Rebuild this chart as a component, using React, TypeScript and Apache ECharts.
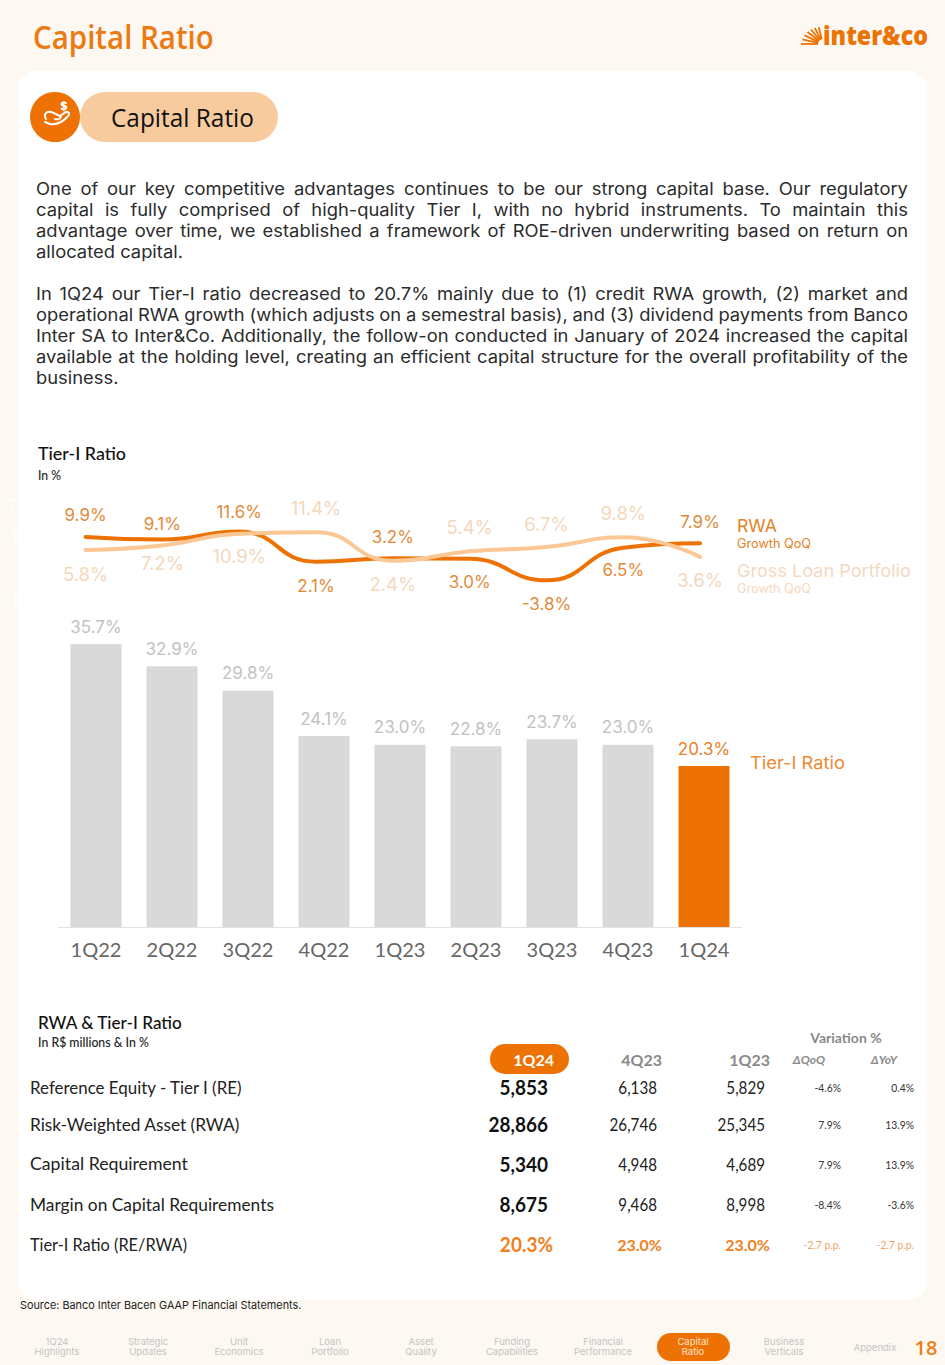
import React, { useEffect, useRef } from "react";
import * as echarts from "echarts";

const categories = ["1Q22", "2Q22", "3Q22", "4Q22", "1Q23", "2Q23", "3Q23", "4Q23", "1Q24"];
const tierRatio = [35.7, 32.9, 29.8, 24.1, 23.0, 22.8, 23.7, 23.0, 20.3];
const rwaGrowth = [9.9, 9.1, 11.6, 2.1, 3.2, 3.0, -3.8, 6.5, 7.9];
const loanGrowth = [5.8, 7.2, 10.9, 11.4, 2.4, 5.4, 6.7, 9.8, 3.6];

// signed label separation from the point: positive above, negative below
const rwaLabelGap = [22.6, 17, 21, -25, 22, -24.5, -25, -23, 22];
const loanLabelGap = [-24.4, -17, -22.5, 24, -23.6, 24, 23, 24, -23.4];

const paragraph1 = [
  "One of our key competitive advantages continues to be our strong capital base. Our regulatory",
  "capital is fully comprised of high-quality Tier I, with no hybrid instruments. To maintain this",
  "advantage over time, we established a framework of ROE-driven underwriting based on return on",
  "allocated capital.",
];
const paragraph2 = [
  "In 1Q24 our Tier-I ratio decreased to 20.7% mainly due to (1) credit RWA growth, (2) market and",
  "operational RWA growth (which adjusts on a semestral basis), and (3) dividend payments from Banco",
  "Inter SA to Inter&Co. Additionally, the follow-on conducted in January of 2024 increased the capital",
  "available at the holding level, creating an efficient capital structure for the overall profitability of the",
  "business.",
];

const rowNames = [
  "Reference Equity - Tier I (RE)",
  "Risk-Weighted Asset (RWA)",
  "Capital Requirement",
  "Margin on Capital Requirements",
  "Tier-I Ratio (RE/RWA)",
];
const col1Q24 = ["5,853", "28,866", "5,340", "8,675", "20.3%"];
const col4Q23 = ["6,138", "26,746", "4,948", "9,468", "23.0%"];
const col1Q23 = ["5,829", "25,345", "4,689", "8,998", "23.0%"];
const colQoQ = ["-4.6%", "7.9%", "7.9%", "-8.4%", "-2.7 p.p."];
const colYoY = ["0.4%", "13.9%", "13.9%", "-3.6%", "-2.7 p.p."];

const navItems = [
  ["1Q24", "Highlights"],
  ["Strategic", "Updates"],
  ["Unit", "Economics"],
  ["Loan", "Portfolio"],
  ["Asset", "Quality"],
  ["Funding", "Capabilities"],
  ["Financial", "Performance"],
  ["Capital", "Ratio"],
  ["Business", "Verticals"],
  ["Appendix"],
];

const ORANGE = "#ee7203";
const SANS = "Lato";
const BODY = "Inter";

const measureCtx = document.createElement("canvas").getContext("2d")!;
function measure(text: string, size: number, family: string, weight: any = 400, style = "normal") {
  measureCtx.font = `${style} ${weight} ${size}px "${family}"`;
  return measureCtx.measureText(text).width;
}

function T(text: string, x: number, y: number, o: any = {}) {
  const size = o.size ?? 16;
  const family = o.family ?? SANS;
  const weight = o.weight ?? 400;
  const style = o.italic ? "italic" : "normal";
  const el: any = {
    type: "text",
    x,
    y,
    z: 5,
    silent: true,
    style: {
      text,
      fill: o.color ?? "#222",
      fontSize: size,
      fontFamily: family,
      fontWeight: weight,
      fontStyle: style,
      textAlign: o.align ?? "left",
      textVerticalAlign: "middle",
      textBaseline: "middle",
    },
  };
  if (o.width) el.scaleX = o.width / measure(text, size, family, weight, style);
  if (o.sx) el.scaleX = o.sx;
  return el;
}

const BODY_SIZE = 17;
const BODY_LEFT = 36;
const BODY_RIGHT = 908;
const bodyScale = 147 / measure("allocated capital.", BODY_SIZE, BODY);

function bodyLine(line: string, y: number, justify: boolean) {
  const words = line.split(" ");
  const widths = words.map((w) => measure(w, BODY_SIZE, BODY) * bodyScale);
  const total = widths.reduce((a, b) => a + b, 0);
  const gap = justify ? (BODY_RIGHT - BODY_LEFT - total) / (words.length - 1) : measure(" ", BODY_SIZE, BODY) * bodyScale;
  let x = BODY_LEFT;
  return words.map((w, i) => {
    const el = T(w, x, y, { size: BODY_SIZE, family: BODY, color: "#2b2b2b" });
    el.scaleX = bodyScale;
    x += widths[i] + gap;
    return el;
  });
}

function buildGraphic() {
  const g: any[] = [];
  g.push({ type: "rect", z: -20, silent: true, shape: { x: 0, y: 0, width: 945, height: 1365 }, style: { fill: "#fdf8f2" } });
  g.push({ type: "rect", z: -10, silent: true, shape: { x: 18, y: 71, width: 909, height: 1229, r: 18 }, style: { fill: "#ffffff" } });

  // header
  g.push(T("Capital Ratio", 33, 36, { size: 33, family: "Open Sans", weight: 600, color: "#ec7a12", width: 181 }));
  for (let i = 0; i < 7; i++) {
    const a = Math.PI * (1 - (i * 0.42) / 6);
    const r0 = 5;
    const r1 = 22 - i * 0.8;
    g.push({
      type: "line",
      z: 5,
      silent: true,
      shape: { x1: 823 + r0 * Math.cos(a), y1: 44 - r0 * Math.sin(a), x2: 823 + r1 * Math.cos(a), y2: 44 - r1 * Math.sin(a) },
      style: { stroke: ORANGE, lineWidth: 1.8 },
    });
  }
  g.push(T("inter&co", 823, 35, { size: 26, family: "Open Sans", weight: 800, color: ORANGE, width: 105 }));

  // section pill
  g.push({ type: "rect", z: 1, silent: true, shape: { x: 80, y: 92, width: 198, height: 50, r: 25 }, style: { fill: "#f8cb9e" } });
  g.push({ type: "circle", z: 1, silent: true, shape: { cx: 55, cy: 117, r: 25 }, style: { fill: ORANGE } });
  g.push({ type: "handIcon", z: 5, silent: true, x: 0, y: 0, style: { fill: "none", stroke: "#fff", lineWidth: 2, lineCap: "round" } });
  g.push(T("$", 60.5, 105.5, { size: 12, family: "Open Sans", weight: 800, color: "#fff" }));
  g.push(T("Capital Ratio", 111, 116.5, { size: 26, family: "Open Sans", weight: 400, color: "#111", width: 143 }));

  // body copy
  paragraph1.forEach((l, i) => g.push(...bodyLine(l, 189 + i * 21, i < paragraph1.length - 1)));
  paragraph2.forEach((l, i) => g.push(...bodyLine(l, 294 + i * 21, i < paragraph2.length - 1)));

  // chart titles and legends
  g.push(T("Tier-I Ratio", 38, 454, { size: 17.5, weight: 500, color: "#111", width: 88 }));
  g.push(T("In %", 38, 475, { size: 12.5, weight: 500, color: "#222", width: 23 }));
  g.push(T("RWA", 737, 526, { size: 17.5, family: BODY, color: "#e38226", width: 40 }));
  g.push(T("Growth QoQ", 737, 544, { size: 12.5, family: BODY, color: "#e38226", width: 74 }));
  g.push(T("Gross Loan Portfolio", 737, 571, { size: 17.5, family: BODY, color: "#f4d9c2", width: 174 }));
  g.push(T("Growth QoQ", 737, 589, { size: 12.5, family: BODY, color: "#f4d9c2", width: 74 }));
  g.push(T("Tier-I Ratio", 750, 763, { size: 17.5, family: BODY, color: "#ee8a30", width: 95 }));

  // table
  g.push(T("RWA & Tier-I Ratio", 38, 1022, { size: 17.5, weight: 500, color: "#111", width: 145 }));
  g.push(T("In R$ millions & In %", 38, 1042, { size: 12.5, weight: 500, color: "#222", width: 111 }));
  g.push(T("Variation %", 846, 1037, { size: 14, weight: 700, color: "#8a8a8a", align: "center" }));
  g.push({ type: "rect", z: 1, silent: true, shape: { x: 490, y: 1044, width: 79, height: 30, r: 15 }, style: { fill: ORANGE } });
  g.push(T("1Q24", 554, 1059.5, { size: 16, weight: 700, color: "#fff", align: "right" }));
  g.push(T("4Q23", 662, 1059.5, { size: 16, weight: 700, color: "#8a8a8a", align: "right" }));
  g.push(T("1Q23", 770, 1059.5, { size: 16, weight: 700, color: "#8a8a8a", align: "right" }));
  g.push(T("ΔQoQ", 825, 1059, { size: 12, weight: 700, italic: true, color: "#8a8a8a", align: "right" }));
  g.push(T("ΔYoY", 897, 1059, { size: 12, weight: 700, italic: true, color: "#8a8a8a", align: "right" }));

  const rowY = [1087, 1124, 1164, 1204, 1244];
  const rowWidths = [213, 210, 158, 244, 157];
  rowNames.forEach((name, i) => {
    const y = rowY[i];
    const last = i === rowNames.length - 1;
    g.push(T(name, 30, y, { size: 17.5, color: "#222", width: rowWidths[i] }));
    g.push(T(col1Q24[i], last ? 553 : 548, y, { size: 20, weight: 700, color: last ? "#f08020" : "#111", align: "right", sx: 0.95 }));
    g.push(T(col4Q23[i], last ? 662 : 657, y, { size: last ? 16 : 16.5, weight: last ? 700 : 400, color: last ? "#f08020" : "#222", align: "right", sx: last ? 1 : 0.92 }));
    g.push(T(col1Q23[i], last ? 770 : 765, y, { size: last ? 16 : 16.5, weight: last ? 700 : 400, color: last ? "#f08020" : "#222", align: "right", sx: last ? 1 : 0.92 }));
    g.push(T(colQoQ[i], 841, y, { size: 11.5, color: last ? "#f0a464" : "#333", align: "right", sx: 0.9 }));
    g.push(T(colYoY[i], 914, y, { size: 11.5, color: last ? "#f0a464" : "#333", align: "right", sx: 0.9 }));
  });

  g.push(T("Source: Banco Inter Bacen GAAP Financial Statements.", 20, 1305, { size: 11, family: BODY, color: "#222", width: 282 }));

  // nav
  g.push({ type: "rect", z: 1, silent: true, shape: { x: 657, y: 1333, width: 73, height: 28, r: 14 }, style: { fill: ORANGE } });
  const navX = [57, 148, 239, 330, 421, 512, 603, 693, 784, 875];
  navItems.forEach((item, i) => {
    const active = i === 7;
    item.forEach((t, j) => {
      const y = item.length === 1 ? 1347 : 1341 + j * 10.5;
      g.push(T(t, navX[i], y, { size: 9.5, family: BODY, color: active ? "#fde4cc" : "#c4c4c4", align: "center" }));
    });
  });
  g.push(T("18", 926, 1347, { size: 20, family: "Open Sans", weight: 600, color: "#f07c10", align: "center" }));
  return g;
}

const handPath =
  "M46 119 C43 114 47 111 51 112 C55 113 57 115 60 116 C62 118 59 120 55 119 M60 116 L66 112 C69 111 70 114 68 116 C63 122 58 125 50 124 L45 122";

const lineLabel = (gaps: number[], color: string, fontSize: number) => (v: number, i: number) => ({
  value: v,
  label: {
    show: true,
    position: gaps[i] > 0 ? "top" : "bottom",
    distance: Math.abs(gaps[i]) - 10,
    formatter: `${v.toFixed(1)}%`,
    color,
    fontSize,
    fontFamily: BODY,
  },
});

export default function App() {
  const ref = useRef<HTMLDivElement>(null);
  useEffect(() => {
    document.body.style.margin = "0";
    echarts.graphic.registerShape("handIcon", echarts.graphic.extendPath(handPath, {}));
    const chart = echarts.init(ref.current!, undefined, { renderer: "svg" });
    chart.setOption({
      animation: false,
      backgroundColor: "transparent",
      tooltip: { show: false },
      graphic: { elements: buildGraphic() },
      grid: [
        { left: 58, top: 610, width: 684, height: 317 },
        { left: 46.5, top: 505, width: 692, height: 95 },
      ],
      xAxis: [
        {
          type: "category",
          gridIndex: 0,
          data: categories,
          axisTick: { show: false },
          axisLine: { lineStyle: { color: "#e2e2e2", width: 1 } },
          axisLabel: { color: "#666", fontSize: 20, fontFamily: SANS, margin: 12 },
        },
        { type: "category", gridIndex: 1, data: categories, show: false },
      ],
      yAxis: [
        { type: "value", gridIndex: 0, min: 0, max: 40, show: false },
        {
          type: "value",
          gridIndex: 1,
          min: -10,
          max: 20,
          interval: 10,
          axisLine: { show: false },
          axisTick: { show: false },
          splitLine: { show: false },
          axisLabel: { color: "#ffffff", fontSize: 17, fontFamily: BODY, margin: 2, formatter: "{value}%" },
        },
      ],
      series: [
        {
          type: "bar",
          name: "Tier-I Ratio",
          xAxisIndex: 0,
          yAxisIndex: 0,
          barWidth: 51,
          silent: true,
          data: tierRatio.map((v, i) => ({
            value: v,
            itemStyle: { color: i === tierRatio.length - 1 ? ORANGE : "#d9d9d9" },
            label: {
              show: true,
              position: "top",
              distance: 9,
              formatter: `${v.toFixed(1)}%`,
              color: i === tierRatio.length - 1 ? "#e9822a" : "#c2c2c2",
              fontSize: 17,
              fontFamily: BODY,
            },
          })),
        },
        {
          type: "line",
          name: "RWA",
          xAxisIndex: 1,
          yAxisIndex: 1,
          smooth: 0.5,
          symbol: "circle",
          symbolSize: 1,
          showSymbol: true,
          silent: true,
          itemStyle: { color: ORANGE },
          lineStyle: { color: ORANGE, width: 4, cap: "round" },
          label: { show: true },
          labelLayout: { hideOverlap: false },
          data: rwaGrowth.map(lineLabel(rwaLabelGap, "#e38a3a", 17)),
        },
        {
          type: "line",
          name: "Gross Loan Portfolio",
          xAxisIndex: 1,
          yAxisIndex: 1,
          smooth: 0.5,
          symbol: "circle",
          symbolSize: 1,
          showSymbol: true,
          silent: true,
          itemStyle: { color: "#fac795" },
          lineStyle: { color: "#fac795", width: 4, cap: "round" },
          label: { show: true },
          labelLayout: { hideOverlap: false },
          data: loanGrowth.map(lineLabel(loanLabelGap, "#f4d8bd", 18.5)),
        },
      ],
    });
    return () => chart.dispose();
  }, []);
  return <div ref={ref} style={{ width: 945, height: 1365, overflow: "hidden" }} />;
}
